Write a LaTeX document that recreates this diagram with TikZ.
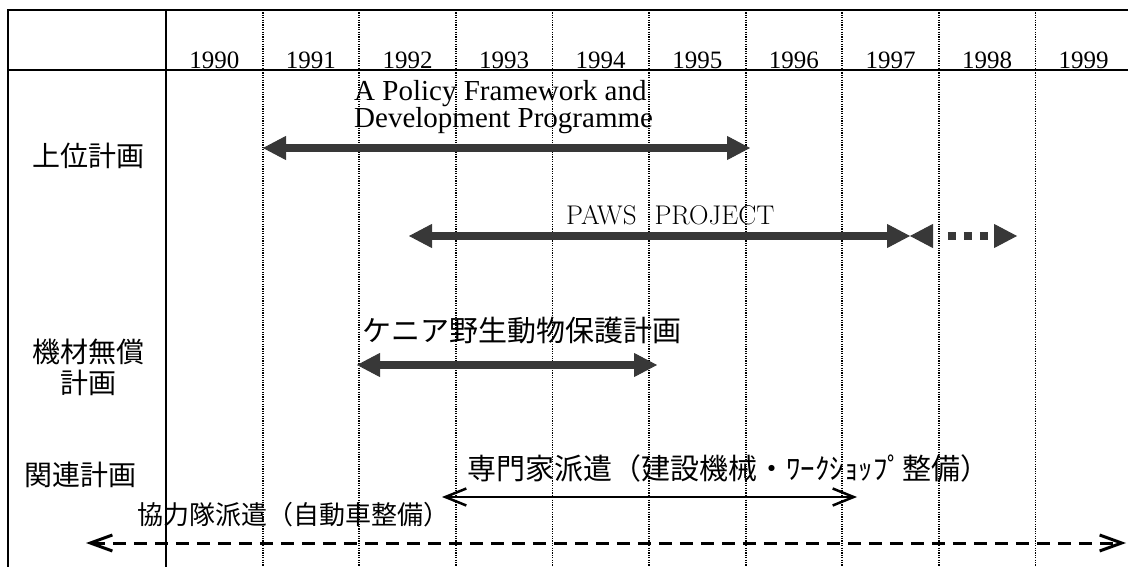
\documentclass[tikz,border=0pt]{standalone}
\usepackage{fontspec}
\setmainfont{Liberation Serif}
\newfontfamily\jp{Noto Sans CJK JP}
\newfontfamily\lmr{Latin Modern Roman}
\usetikzlibrary{arrows.meta}
\begin{document}
\begin{tikzpicture}[x=1pt,y=-1pt,
  frame/.style={line width=2.2pt, black},
  yeargrid/.style={line width=1.8pt, dash pattern=on 1.2pt off 1.2pt, black},
  yearlbl/.style={font=\fontsize{25}{25}\selectfont, anchor=base, inner sep=0pt},
  rowlbl/.style={font=\jp\fontsize{28}{28}\selectfont, anchor=base, inner sep=0pt},
  jplbl/.style={font=\jp\fontsize{29}{29}\selectfont, anchor=base west, inner sep=0pt},
  enlbl/.style={font=\fontsize{29}{29}\selectfont, anchor=base west, inner sep=0pt},
  fattip/.tip={Triangle[length=23pt,width=24pt,line width=1pt]},
  thintip/.tip={Straight Barb[length=21pt,width=17pt,line width=2.5pt]},
  dashtip/.tip={Straight Barb[length=22pt,width=16pt,line width=3pt]},
  fatarrow/.style={line width=8pt, draw=black!78, arrows={fattip-fattip}},
  thinarrow/.style={line width=2.5pt, black, arrows={thintip-thintip}},
  dasharrow/.style={line width=3pt, black, dash pattern=on 13pt off 8pt, arrows={dashtip-dashtip}}
]
\useasboundingbox (0,0) rectangle (1128,567);
% frame
\draw[frame] (8,567) -- (8,10) -- (1128,10);
\draw[frame] (8,70) -- (1128,70);
\draw[frame] (166,10) -- (166,567);
% dotted year separators
\foreach \k in {1,...,9} {
  \draw[yeargrid] ({166+96.6*\k},10) -- ({166+96.6*\k},567);
}
% year labels
\foreach \yr [count=\i from 0] in {1990,...,1999} {
  \node[yearlbl] (y\yr) at ({166+96.6*\i+48.3},68.5) {\yr};
}
% row labels
\node[rowlbl] (r1) at (88,167) {上位計画};
\node[rowlbl] (r2a) at (88,362) {機材無償};
\node[rowlbl] (r2b) at (88,393) {計画};
\node[rowlbl] (r3) at (80,485) {関連計画};
% A Policy Framework
\node[enlbl] (pf1) at (354,101) {A Policy Framework and};
\node[enlbl] (pf2) at (354,128) {Development Programme};
\coordinate (pfL) at (263,148);
\coordinate (pfR) at (750,148);
\draw[fatarrow] (pfL) -- (pfR);
% PAWS PROJECT
\node[font=\lmr\fontsize{27}{27}\selectfont, anchor=base west, inner sep=0pt] (paws) at (566,225) {PAWS\hspace{18pt}PROJECT};
\coordinate (pwL) at (409,236);
\coordinate (pwM) at (910,236);
\coordinate (pwR) at (1017,236);
\draw[fatarrow] (pwL) -- (pwM);
\draw[line width=8pt, draw=black!78, dash pattern=on 0pt off 15pt on 8pt off 8pt on 8pt off 8pt on 8pt off 100pt, arrows={fattip-fattip}] (pwM) -- (pwR);
% Kenya wildlife
\node[jplbl] (kw) at (362,341) {ケニア野生動物保護計画};
\coordinate (kwL) at (357,365);
\coordinate (kwR) at (657,365);
\draw[fatarrow] (kwL) -- (kwR);
% experts
\node[jplbl] (ex) at (467,479) {専門家派遣（建設機械・ﾜｰｸｼｮｯﾌﾟ整備）};
\coordinate (exL) at (442,497);
\coordinate (exR) at (857,497);
\draw[thinarrow] (exL) -- (exR);
% volunteers
\node[font=\jp\fontsize{26}{26}\selectfont, anchor=base west, inner sep=0pt] (vo) at (137,524) {協力隊派遣（自動車整備）};
\coordinate (voL) at (86,543);
\coordinate (voR) at (1126,543);
\draw[dasharrow] (voL) -- (voR);
\end{tikzpicture}
\end{document}
